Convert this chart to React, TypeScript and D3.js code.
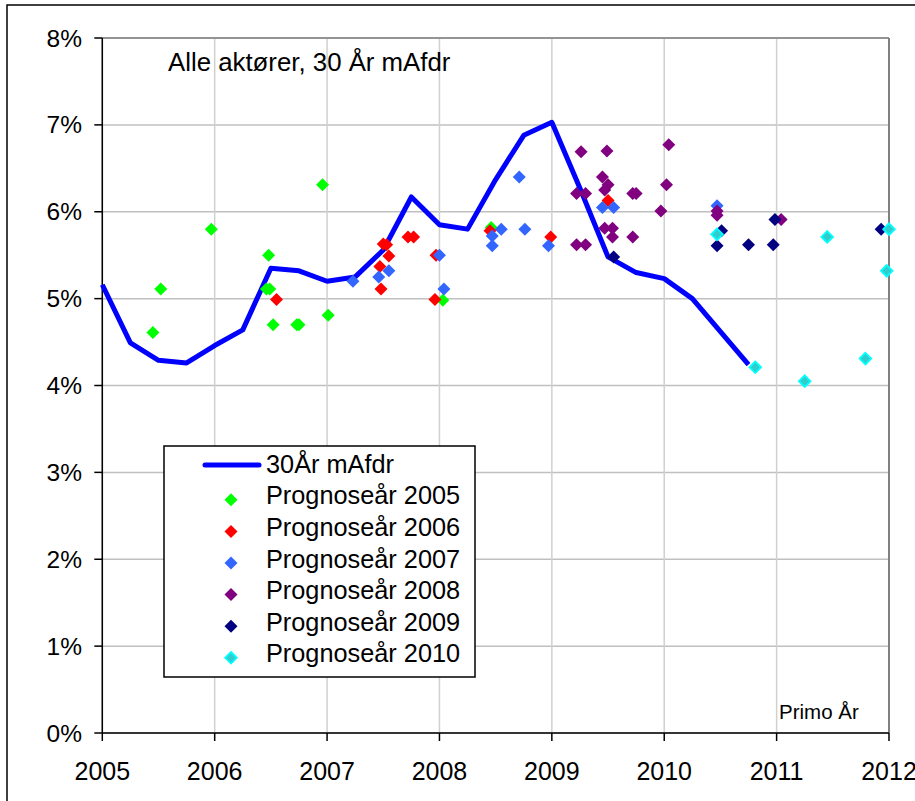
import React from "react";
import * as d3 from "d3";

const lineDates = [2005, 2005.25, 2005.5, 2005.75, 2006, 2006.25, 2006.5, 2006.75, 2007, 2007.25, 2007.5, 2007.75, 2008, 2008.25, 2008.5, 2008.75, 2009, 2009.25, 2009.5, 2009.75, 2010, 2010.25, 2010.5, 2010.75];
const lineValues = [5.16, 4.49, 4.29, 4.26, 4.46, 4.64, 5.35, 5.32, 5.2, 5.25, 5.56, 6.17, 5.85, 5.8, 6.37, 6.88, 7.03, 6.27, 5.48, 5.3, 5.23, 5.0, 4.62, 4.24];

const p2005Dates = [2005.45, 2005.52, 2005.97, 2006.48, 2006.46, 2006.49, 2006.52, 2006.73, 2006.75, 2006.96, 2007.01, 2008.03, 2008.46];
const p2005Values = [4.61, 5.11, 5.8, 5.5, 5.11, 5.11, 4.7, 4.7, 4.7, 6.31, 4.81, 4.98, 5.82];

const p2006Dates = [2006.55, 2007.5, 2007.53, 2007.55, 2007.47, 2007.48, 2007.72, 2007.77, 2007.97, 2007.96, 2008.45, 2008.99, 2009.5];
const p2006Values = [4.99, 5.63, 5.62, 5.49, 5.37, 5.11, 5.71, 5.71, 5.5, 4.99, 5.78, 5.71, 6.13];

const p2007Dates = [2007.23, 2007.46, 2007.55, 2008.0, 2008.04, 2008.47, 2008.47, 2008.55, 2008.71, 2008.76, 2008.97, 2009.45, 2009.55, 2010.47];
const p2007Values = [5.2, 5.25, 5.32, 5.5, 5.11, 5.72, 5.61, 5.8, 6.4, 5.8, 5.61, 6.05, 6.05, 6.07];

const p2008Dates = [2009.22, 2009.3, 2009.22, 2009.3, 2009.26, 2009.49, 2009.45, 2009.5, 2009.47, 2009.72, 2009.75, 2009.47, 2009.54, 2009.54, 2009.72, 2010.04, 2010.02, 2009.97, 2010.47, 2010.47, 2011.04];
const p2008Values = [6.21, 6.21, 5.62, 5.62, 6.69, 6.7, 6.4, 6.31, 6.25, 6.21, 6.21, 5.81, 5.81, 5.71, 5.71, 6.77, 6.31, 6.01, 6.01, 5.96, 5.91];

const p2009Dates = [2009.55, 2010.51, 2010.47, 2010.75, 2010.97, 2010.985, 2011.93];
const p2009Values = [5.48, 5.78, 5.61, 5.62, 5.62, 5.91, 5.8];

const p2010Dates = [2010.47, 2010.81, 2011.25, 2011.45, 2011.79, 2011.98, 2012.0];
const p2010Values = [5.74, 4.21, 4.05, 5.71, 4.31, 5.32, 5.8];

const xTicks = [2005, 2006, 2007, 2008, 2009, 2010, 2011, 2012];
const yTicks = [0, 1, 2, 3, 4, 5, 6, 7, 8];

const lineLabel = "30År mAfdr";
const seriesLabels = ["Prognoseår 2005", "Prognoseår 2006", "Prognoseår 2007", "Prognoseår 2008", "Prognoseår 2009", "Prognoseår 2010"];
const title = "Alle aktører, 30 År mAfdr";
const xAxisNote = "Primo År";

const series = [
  { label: seriesLabels[0], dates: p2005Dates, values: p2005Values, fill: "#00ff00", stroke: "none" },
  { label: seriesLabels[1], dates: p2006Dates, values: p2006Values, fill: "#ff0000", stroke: "none" },
  { label: seriesLabels[2], dates: p2007Dates, values: p2007Values, fill: "#3366ff", stroke: "none" },
  { label: seriesLabels[3], dates: p2008Dates, values: p2008Values, fill: "#800080", stroke: "none" },
  { label: seriesLabels[4], dates: p2009Dates, values: p2009Values, fill: "#000080", stroke: "none" },
  { label: seriesLabels[5], dates: p2010Dates, values: p2010Values, fill: "#33cccc", stroke: "#00ffff" },
];

const FONT = "'Liberation Sans', Arial, sans-serif";
const W = 915;
const H = 801;
const L = 102.3, R = 889, T = 38, B = 733;

function diamond(cx: number, cy: number, r: number) {
  return `M${cx},${cy - r}L${cx + r},${cy}L${cx},${cy + r}L${cx - r},${cy}Z`;
}

export default function App() {
  const x = d3.scaleLinear().domain([2005, 2012]).range([L, R]);
  const y = d3.scaleLinear().domain([0, 8]).range([B, T]);
  const line = d3
    .line<number>()
    .x((_, i) => x(lineDates[i]))
    .y((d) => y(d));

  const legX = 164, legY = 446, legW = 311, legH = 231;
  const rowBase = (i: number) => 472.7 + i * 31.6;

  return (
    <svg width={W} height={H} style={{ position: "absolute", left: 0, top: 0, background: "#fff" }} fontFamily={FONT}>
      <rect x={0} y={0} width={W} height={H} fill="#fff" />
      <rect x={7} y={5} width={940} height={840} fill="none" stroke="#000" strokeWidth={1.5} />
      {yTicks.map((t) => (
        <line key={"gy" + t} x1={L} x2={R} y1={y(t)} y2={y(t)} stroke="#c0c0c0" strokeWidth={1.5} />
      ))}
      {xTicks.map((t) => (
        <line key={"gx" + t} x1={x(t)} x2={x(t)} y1={T} y2={B} stroke="#d0d0d0" strokeWidth={1.5} />
      ))}
      <line x1={L} x2={R} y1={T} y2={T} stroke="#808080" strokeWidth={1.5} />
      <line x1={R} x2={R} y1={T} y2={B} stroke="#808080" strokeWidth={2} />
      <line x1={L} x2={L} y1={T} y2={B} stroke="#000" strokeWidth={1.5} />
      <line x1={L} x2={R} y1={B} y2={B} stroke="#000" strokeWidth={1.5} />
      {yTicks.map((t) => (
        <g key={"yt" + t}>
          <line x1={L - 8} x2={L} y1={y(t)} y2={y(t)} stroke="#000" strokeWidth={1.5} />
          <text x={82} y={y(t) + 8.5} textAnchor="end" fontSize={24.5} fill="#000">
            {t + "%"}
          </text>
        </g>
      ))}
      {xTicks.map((t) => (
        <g key={"xt" + t}>
          <line x1={x(t)} x2={x(t)} y1={B} y2={B + 8} stroke="#000" strokeWidth={1.5} />
          <text x={x(t)} y={780} textAnchor="middle" fontSize={25} fill="#000">
            {String(t)}
          </text>
        </g>
      ))}
      <path d={line(lineValues) || ""} fill="none" stroke="#0000ff" strokeWidth={5} strokeLinejoin="round" />
      {series.map((s, si) => (
        <g key={"s" + si}>
          {s.values.map((v, i) => (
            <path
              key={i}
              d={diamond(x(s.dates[i]), y(v), s.stroke === "none" ? 6.5 : 5.8)}
              fill={s.fill}
              stroke={s.stroke}
              strokeWidth={s.stroke === "none" ? 0 : 1.8}
            />
          ))}
        </g>
      ))}
      <text x={168} y={71} fontSize={25.8} fill="#000">{title}</text>
      <text x={779} y={719} fontSize={20.5} fill="#000">{xAxisNote}</text>
      <rect x={legX} y={legY} width={legW} height={legH} fill="#fff" stroke="#000" strokeWidth={1.5} />
      <line x1={205} x2={259} y1={465} y2={465} stroke="#0000ff" strokeWidth={5} strokeLinecap="round" />
      <text x={266} y={rowBase(0)} fontSize={25.3} fill="#000">{lineLabel}</text>
      {series.map((s, i) => (
        <g key={"lg" + i}>
          <path
            d={diamond(231, rowBase(i + 1) - 4.5, s.stroke === "none" ? 6.5 : 5.8)}
            fill={s.fill}
            stroke={s.stroke}
            strokeWidth={s.stroke === "none" ? 0 : 1.8}
          />
          <text x={266} y={rowBase(i + 1)} fontSize={25.3} fill="#000">{s.label}</text>
        </g>
      ))}
    </svg>
  );
}
